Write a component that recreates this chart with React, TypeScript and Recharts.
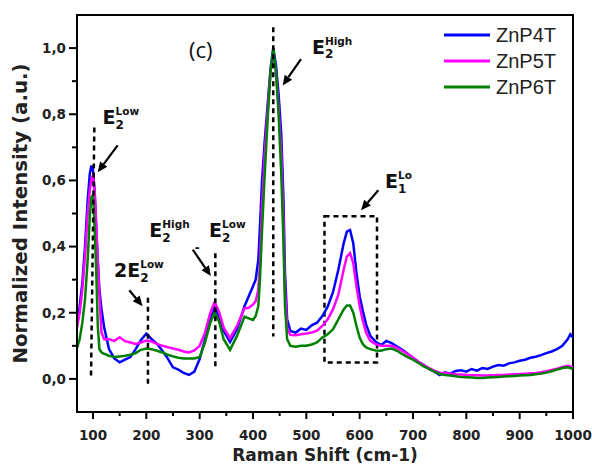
import {
  LineChart,
  Line,
  XAxis,
  YAxis,
  Legend,
  ReferenceLine,
  ReferenceArea,
  ReferenceDot,
} from "recharts";

// Raman shift (cm-1), denser around the peaks
const shift = [
  70, 75, 80, 85, 90, 94, 97, 100, 103, 106, 109, 112, 116, 121,
  130, 140, 150, 160, 170, 180, 190, 200, 210, 220, 230, 240, 250, 260, 270, 280, 290, 300, 310, 320,
  328, 336, 345, 357, 370, 384, 392,
  400, 405, 410, 413, 417, 422, 428, 433, 438, 443, 448, 453, 457, 460, 464, 470,
  480, 490, 500, 510, 520, 530, 540, 550, 560, 570,
  576, 582, 588, 594, 600, 606, 612,
  620, 630, 640, 650, 660, 670, 680, 690, 700, 710, 720, 730, 740, 750, 760, 770, 780, 790, 800,
  810, 820, 830, 840, 850, 860, 870, 880, 890, 900, 910, 920, 930, 940, 950, 960, 970, 980, 990, 995, 1000,
];

const znp4t = [
  0.17, 0.22, 0.29, 0.4, 0.54, 0.62, 0.645, 0.63, 0.57, 0.46, 0.36, 0.27, 0.21, 0.155,
  0.09, 0.062, 0.05, 0.058, 0.066, 0.09, 0.118, 0.137, 0.12, 0.106, 0.085, 0.062, 0.035, 0.028, 0.018, 0.012, 0.022, 0.06, 0.12, 0.18,
  0.215, 0.19, 0.145, 0.112, 0.15, 0.22, 0.25,
  0.28, 0.3, 0.36, 0.46, 0.6, 0.72, 0.84, 0.94, 1.0, 0.95, 0.86, 0.74, 0.55, 0.32, 0.18, 0.145,
  0.14, 0.152, 0.148, 0.162, 0.17, 0.19, 0.218, 0.262, 0.33, 0.41,
  0.445, 0.45, 0.41, 0.32, 0.25, 0.205, 0.165,
  0.13, 0.112, 0.102, 0.115, 0.108, 0.098, 0.088, 0.076, 0.064, 0.052, 0.042, 0.03, 0.022, 0.012, 0.02, 0.016, 0.024, 0.026, 0.022,
  0.03, 0.025, 0.033, 0.03, 0.037, 0.042, 0.04, 0.047, 0.05, 0.055, 0.058, 0.064, 0.067, 0.072, 0.078, 0.083, 0.09, 0.1, 0.12, 0.135, 0.125,
];

const znp5t = [
  0.155, 0.2, 0.27, 0.37, 0.5, 0.57, 0.605, 0.615, 0.57, 0.47, 0.35, 0.25, 0.14, 0.12,
  0.12, 0.115, 0.126, 0.114, 0.11, 0.106, 0.11, 0.116, 0.113, 0.106, 0.1, 0.096, 0.092, 0.088, 0.083, 0.08, 0.086, 0.1, 0.14, 0.2,
  0.232, 0.205, 0.155, 0.123, 0.16, 0.213, 0.215,
  0.225, 0.235, 0.27, 0.35, 0.52, 0.68, 0.82, 0.93, 0.985, 0.93, 0.82, 0.68, 0.48, 0.27, 0.155, 0.133,
  0.132, 0.135, 0.137, 0.14, 0.146, 0.16, 0.18, 0.21, 0.255, 0.33,
  0.37, 0.38, 0.35, 0.28, 0.22, 0.175, 0.14,
  0.115, 0.105, 0.1, 0.1, 0.1, 0.093, 0.085, 0.075, 0.065, 0.052, 0.042, 0.033, 0.025, 0.019, 0.018, 0.016, 0.014, 0.013, 0.012,
  0.011, 0.011, 0.01, 0.01, 0.011, 0.012, 0.012, 0.013, 0.014, 0.015, 0.016, 0.017, 0.018, 0.02, 0.023, 0.027, 0.031, 0.036, 0.04, 0.038, 0.036,
];

const znp6t = [
  0.094, 0.12, 0.17, 0.24, 0.36, 0.49, 0.55, 0.555, 0.46, 0.33, 0.16, 0.09, 0.08, 0.076,
  0.07, 0.066, 0.068, 0.07, 0.073, 0.078, 0.088, 0.092, 0.09, 0.085, 0.08, 0.073, 0.068, 0.064, 0.062, 0.062, 0.062, 0.066, 0.11, 0.17,
  0.2, 0.175, 0.12, 0.088, 0.13, 0.188, 0.183,
  0.178, 0.19, 0.22, 0.3, 0.45, 0.62, 0.8, 0.93, 0.998, 0.93, 0.8, 0.62, 0.42, 0.22, 0.12, 0.1,
  0.097, 0.1, 0.1, 0.104, 0.11, 0.125, 0.135, 0.15, 0.18, 0.21,
  0.222, 0.222, 0.2, 0.16, 0.125, 0.105, 0.095,
  0.09, 0.086, 0.085, 0.09, 0.092, 0.085, 0.075, 0.066, 0.058, 0.048, 0.038, 0.03, 0.022, 0.015, 0.012, 0.01, 0.008, 0.006, 0.005,
  0.004, 0.003, 0.003, 0.004, 0.005, 0.006, 0.007, 0.008, 0.009, 0.01, 0.011, 0.012, 0.014, 0.016, 0.019, 0.023, 0.028, 0.033, 0.035, 0.033, 0.03,
];

const seriesNames = ["ZnP4T", "ZnP5T", "ZnP6T"];
const seriesColors = ["#0000ff", "#ff00ff", "#008000"];

const xMajorTicks = [100, 200, 300, 400, 500, 600, 700, 800, 900, 1000];
const xMinorTicks = [150, 250, 350, 450, 550, 650, 750, 850, 950];
const yMajorTicks = [0, 0.2, 0.4, 0.6, 0.8, 1.0];
const yMinorTicks = [0.1, 0.3, 0.5, 0.7, 0.9];

// dashed markers at the phonon modes (data coords)
const modeMarkers = [
  { from: [102.5, 0.76], to: [96.3, 0.01] },
  { from: [203, 0.245], to: [203, -0.025] },
  { from: [329.4, 0.38], to: [329.4, 0.032] },
  { from: [438, 1.063], to: [438, 0.128] },
];

// arrows: tail -> head
const arrows = [
  { from: [146.3, 0.706], to: [108.8, 0.625] },
  { from: [490, 0.967], to: [455.7, 0.887] },
  { from: [168, 0.268], to: [193, 0.22] },
  { from: [287, 0.391], to: [321, 0.311] },
  { from: [635, 0.57], to: [602.5, 0.51] },
];

const modeLabels = [
  { at: [118, 0.77], pre: "", sup: "Low", sub: "2" },
  { at: [510.6, 0.983], pre: "", sup: "High", sub: "2" },
  { at: [139.4, 0.308], pre: "2", sup: "Low", sub: "2" },
  { at: [205.6, 0.428], pre: "", sup: "High", sub: "2" },
  { at: [317.5, 0.428], pre: "", sup: "Low", sub: "2" },
  { at: [647.5, 0.576], pre: "", sup: "Lo", sub: "1" },
];

const plainLabels = [
  { at: [280, 0.97], text: "(c)", font: "Open Sans", size: 22, weight: "normal" },
  { at: [291, 0.383], text: "-", font: "DejaVu Sans", size: 12, weight: "bold" },
];

const e1Box = { x1: 534, x2: 632.5, y1: 0.05, y2: 0.492 };

const data = shift.map((s, i) => ({
  shift: s,
  ZnP4T: znp4t[i],
  ZnP5T: znp5t[i],
  ZnP6T: znp6t[i],
}));

const boldFont = "'DejaVu Sans', sans-serif";
const fmtComma = (v: number) => v.toFixed(1).replace(".", ",");

const XTick = (props: any) => {
  const { x, y, payload } = props;
  const major = xMajorTicks.includes(payload.value);
  return (
    <g>
      <line x1={x} y1={y} x2={x} y2={y + (major ? 7 : 4)} stroke="#000" strokeWidth={2} />
      {major && (
        <text x={x} y={y + 28} textAnchor="middle" fontFamily={boldFont} fontWeight="bold" fontSize={13.5} fill="#222">
          {payload.value}
        </text>
      )}
    </g>
  );
};

const YTick = (props: any) => {
  const { x, y, payload } = props;
  const major = yMajorTicks.some((t) => Math.abs(t - payload.value) < 1e-6);
  return (
    <g>
      <line x1={x} y1={y} x2={x - (major ? 8 : 5)} y2={y} stroke="#000" strokeWidth={2} />
      {major && (
        <text x={x - 11} y={y} dy="0.36em" textAnchor="end" fontFamily={boldFont} fontWeight="bold" fontSize={13.5} fill="#222">
          {fmtComma(payload.value)}
        </text>
      )}
    </g>
  );
};

const arrowShape = (p: any) => {
  const { x1, y1, x2, y2 } = p;
  const a = Math.atan2(y2 - y1, x2 - x1);
  const c = Math.cos(a);
  const s = Math.sin(a);
  const len = 10;
  const half = 4.5;
  const bx = x2 - len * c;
  const by = y2 - len * s;
  const pts = `${x2},${y2} ${bx - half * s},${by + half * c} ${bx + half * s},${by - half * c}`;
  return (
    <g>
      <line x1={x1} y1={y1} x2={bx} y2={by} stroke="#000" strokeWidth={2.2} />
      <polygon points={pts} fill="#000" />
    </g>
  );
};

const modeShape = (lbl: (typeof modeLabels)[number]) => (p: any) => {
  const { cx, cy } = p;
  return (
    <g fontFamily={boldFont} fontWeight="bold" fill="#111">
      <text x={cx} y={cy} fontSize={19}>
        {lbl.pre}E
        <tspan fontSize={10.5} dy={-9}>
          {lbl.sup}
        </tspan>
      </text>
      <text x={cx} y={cy} fontSize={19}>
        <tspan fillOpacity={0}>{lbl.pre}E</tspan>
        <tspan fontSize={12} dy={4.5}>
          {lbl.sub}
        </tspan>
      </text>
    </g>
  );
};

const plainShape = (lbl: (typeof plainLabels)[number]) => (p: any) => (
  <text x={p.cx} y={p.cy} fontFamily={lbl.font} fontWeight={lbl.weight} fontSize={lbl.size} fill="#111">
    {lbl.text}
  </text>
);

const renderLegend = () => (
  <svg width={140} height={80}>
    {seriesNames.map((n, i) => (
      <g key={n}>
        <line x1={4} x2={50} y1={15 + i * 26} y2={15 + i * 26} stroke={seriesColors[i]} strokeWidth={3} />
        <text x={56} y={22 + i * 26} fontFamily="'Liberation Sans', Arial, sans-serif" fontSize={20} fill="#222">
          {n}
        </text>
      </g>
    ))}
  </svg>
);

export default function App() {
  return (
    <div style={{ position: "absolute", left: 0, top: 0, background: "#fff" }}>
      <LineChart width={592} height={466} data={data} margin={{ top: 15, right: 19, left: 0, bottom: 0 }}>
        <XAxis
          dataKey="shift"
          type="number"
          domain={[70, 1000]}
          allowDataOverflow
          ticks={[...xMajorTicks, ...xMinorTicks].sort((a, b) => a - b)}
          interval={0}
          tick={XTick}
          tickLine={false}
          tickSize={0}
          tickMargin={0}
          height={54}
          axisLine={{ stroke: "#000", strokeWidth: 2 }}
          label={(p: any) => {
            const vb = p.viewBox;
            return (
              <text x={vb.x + vb.width / 2} y={vb.y + 49} textAnchor="middle" fontFamily={boldFont} fontWeight="bold" fontSize={17} fill="#222">
                Raman Shift (cm-1)
              </text>
            );
          }}
        />
        <YAxis
          type="number"
          domain={[-0.1, 1.1]}
          allowDataOverflow
          ticks={[...yMajorTicks, ...yMinorTicks].sort((a, b) => a - b)}
          interval={0}
          tick={YTick}
          tickLine={false}
          tickSize={0}
          tickMargin={0}
          width={77}
          axisLine={{ stroke: "#000", strokeWidth: 2 }}
          label={(p: any) => {
            const vb = p.viewBox;
            const cx = 27;
            const cy = vb.y + vb.height / 2;
            return (
              <text x={cx} y={cy} textAnchor="middle" transform={`rotate(-90, ${cx}, ${cy})`} fontFamily={boldFont} fontWeight="bold" fontSize={19.8} fill="#222">
                Normalized Intensity (a.u.)
              </text>
            );
          }}
        />
        <ReferenceArea x1={70} x2={1000} y1={-0.1} y2={1.1} fill="none" stroke="#000" strokeWidth={2} />
        {seriesNames.map((n, i) => (
          <Line
            key={n}
            dataKey={n}
            type="linear"
            stroke={seriesColors[i]}
            strokeWidth={2.5}
            dot={false}
            activeDot={false}
            isAnimationActive={false}
          />
        ))}
        {modeMarkers.map((m, i) => (
          <ReferenceLine
            key={`m${i}`}
            segment={[
              { x: m.from[0], y: m.from[1] },
              { x: m.to[0], y: m.to[1] },
            ]}
            stroke="#000"
            strokeWidth={2.5}
            strokeDasharray="5 4"
          />
        ))}
        <ReferenceArea
          x1={e1Box.x1}
          x2={e1Box.x2}
          y1={e1Box.y1}
          y2={e1Box.y2}
          fill="none"
          stroke="#000"
          strokeWidth={2.5}
          strokeDasharray="5 4"
        />
        {arrows.map((a, i) => (
          <ReferenceLine
            key={`a${i}`}
            segment={[
              { x: a.from[0], y: a.from[1] },
              { x: a.to[0], y: a.to[1] },
            ]}
            shape={arrowShape}
          />
        ))}
        {modeLabels.map((l, i) => (
          <ReferenceDot key={`l${i}`} x={l.at[0]} y={l.at[1]} r={0} shape={modeShape(l)} />
        ))}
        {plainLabels.map((l, i) => (
          <ReferenceDot key={`p${i}`} x={l.at[0]} y={l.at[1]} r={0} shape={plainShape(l)} />
        ))}
        <Legend
          layout="horizontal"
          verticalAlign="middle"
          align="center"
          wrapperStyle={{ top: 20, left: 440, width: 140, height: 80 }}
          content={renderLegend}
        />
      </LineChart>
    </div>
  );
}
